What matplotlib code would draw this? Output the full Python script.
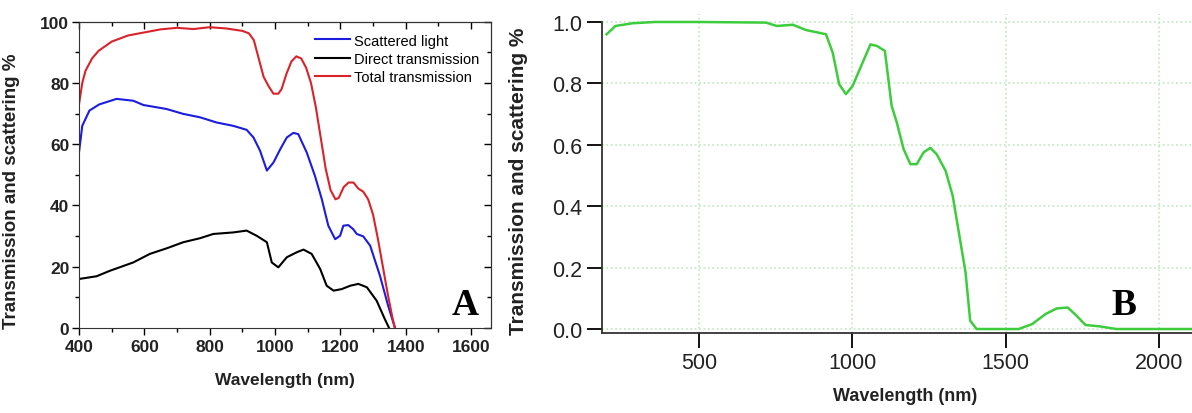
import matplotlib
matplotlib.use('Agg')
import matplotlib.pyplot as plt
from matplotlib.ticker import MultipleLocator

# ----- Panel A: spectra -----
total_nm = [400, 410, 420, 440, 460, 480, 500, 550, 600, 650, 700, 750, 800, 850, 900, 920,
            935, 950, 965, 980, 995, 1010, 1020, 1035, 1050, 1065, 1080, 1095, 1110, 1125,
            1140, 1155, 1170, 1185, 1195, 1210, 1225, 1240, 1255, 1270, 1285, 1300, 1315,
            1330, 1345, 1360, 1367]
total_pct = [73, 80, 84, 88, 90.5, 92, 93.5, 95.5, 96.5, 97.5, 98, 97.6, 98.2, 97.8, 97, 96.2,
             94, 88, 82, 79, 76.5, 76.5, 78, 83, 87, 88.7, 88, 85, 80, 72,
             62, 52, 45, 42, 42.5, 46, 47.5, 47.5, 45.5, 44.5, 42, 37, 29,
             20, 11, 3, 0]

scatter_nm = [400, 410, 432, 462, 515, 566, 597, 668, 719, 770, 821, 872, 913, 934, 954, 975,
              995, 1016, 1036, 1056, 1071, 1097, 1122, 1143, 1163, 1184, 1199, 1209, 1224,
              1239, 1250, 1270, 1291, 1321, 1346, 1367]
scatter_pct = [57.3, 66, 71, 73, 74.8, 74.2, 72.8, 71.5, 69.9, 68.8, 67.1, 66, 64.7, 62.2, 57.9, 51.4,
               54, 58.4, 62.2, 63.7, 63.3, 57.3, 49.7, 42.1, 33.4, 29, 30.1, 33.4, 33.6,
               32.3, 30.7, 29.9, 26.9, 17.1, 7.3, 0]

direct_nm = [400, 454, 495, 566, 617, 668, 719, 770, 811, 872, 913, 944, 975, 990, 1010, 1036,
             1066, 1087, 1112, 1138, 1158, 1179, 1204, 1230, 1255, 1281, 1311, 1336, 1349]
direct_pct = [16, 16.9, 18.7, 21.4, 24.2, 26, 28, 29.3, 30.7, 31.2, 31.8, 30.1, 28, 21.4, 19.8, 23.1,
              24.7, 25.6, 24.2, 19.3, 13.8, 12.2, 12.7, 13.8, 14.4, 13.3, 8.9, 2.9, 0]

# ----- Panel B -----
b_nm = [199, 228, 285, 357, 500, 718, 754, 806, 848, 914, 936, 957, 979, 1001, 1031, 1059, 1080,
        1106, 1128, 1145, 1167, 1189, 1210, 1232, 1254, 1275, 1304, 1327, 1347, 1369, 1384,
        1405, 1542, 1586, 1630, 1666, 1702, 1731, 1760, 1803, 1861, 2110]
b_val = [0.96, 0.987, 0.996, 1.0, 1.0, 0.998, 0.987, 0.991, 0.974, 0.96, 0.9, 0.797, 0.765, 0.792,
         0.862, 0.927, 0.922, 0.906, 0.727, 0.672, 0.586, 0.537, 0.537, 0.575, 0.59, 0.569,
         0.515, 0.434, 0.315, 0.184, 0.027, 0.0, 0.0, 0.016, 0.049, 0.067, 0.07, 0.043,
         0.013, 0.009, 0.0, 0.0]

W, H = 1192, 414
fig = plt.figure(figsize=(W / 100, H / 100), dpi=100)

# ===== Panel A =====
axA = fig.add_axes([79 / W, (H - 329) / H, (490.7 - 79) / W, (329 - 22.7) / H])
axA.plot(scatter_nm, scatter_pct, color='#1c1ce0', lw=1.5, label='Scattered light')
axA.plot(direct_nm, direct_pct, color='black', lw=1.5, label='Direct transmission')
axA.plot(total_nm, total_pct, color='#d8232a', lw=1.5, label='Total transmission')
axA.set_xlim(400, 1660)
axA.set_ylim(0, 100)
axA.xaxis.set_major_locator(MultipleLocator(200))
axA.xaxis.set_minor_locator(MultipleLocator(100))
axA.yaxis.set_major_locator(MultipleLocator(20))
axA.yaxis.set_minor_locator(MultipleLocator(10))
axA.tick_params(which='both', direction='out', top=False, right=False, width=1)
axA.tick_params(which='major', length=5)
axA.tick_params(which='minor', length=3)
for lab in axA.get_xticklabels() + axA.get_yticklabels():
    lab.set_fontfamily('Liberation Sans')
    lab.set_fontweight('bold')
    lab.set_fontsize(12.5)
    lab.set_color('#222222')
axA.tick_params(axis='x', pad=3)
axA.tick_params(axis='y', pad=2)
# mirrored inward ticks on top/right
secx = axA.secondary_xaxis('top')
secx.xaxis.set_major_locator(MultipleLocator(200))
secx.xaxis.set_minor_locator(MultipleLocator(100))
secx.tick_params(which='both', direction='in', labeltop=False, width=1)
secx.tick_params(which='major', length=5)
secx.tick_params(which='minor', length=3)
secy = axA.secondary_yaxis('right')
secy.yaxis.set_major_locator(MultipleLocator(20))
secy.yaxis.set_minor_locator(MultipleLocator(10))
secy.tick_params(which='both', direction='in', labelright=False, width=1)
secy.tick_params(which='major', length=5)
secy.tick_params(which='minor', length=3)
for sp in axA.spines.values():
    sp.set_color('#333333')
axA.set_xlabel('Wavelength (nm)', fontfamily='Liberation Sans', fontweight='bold',
               fontsize=12.5, color='#222222')
axA.xaxis.set_label_coords(0.5, -0.145)
axA.set_ylabel('Transmission and scattering %', fontfamily='Liberation Sans',
               fontweight='bold', fontsize=13.5, color='#222222')
axA.yaxis.set_label_coords(-0.143, 0.45)
leg = axA.legend(loc='upper left', bbox_to_anchor=(0.555, 0.985), frameon=False,
                 borderpad=0, handlelength=2.4, handletextpad=0.3, labelspacing=0.3,
                 prop={'family': 'Liberation Sans', 'size': 10.5})
axA.text(0.9375, 0.078, 'A', transform=axA.transAxes, ha='center', va='center',
         fontfamily='Liberation Serif', fontweight='bold', fontsize=27)

# ===== Panel B =====
axB = fig.add_axes([602 / W, (H - 334) / H, (W - 602) / W, (334 - 15) / H])
axB.plot(b_nm, b_val, color='#3ccc3c', lw=1.8)
axB.set_xlim(184, 2107)
axB.set_ylim(-0.013, 1.026)
axB.set_xticks([500, 1000, 1500, 2000])
axB.set_yticks([0.0, 0.2, 0.4, 0.6, 0.8, 1.0])
axB.set_yticklabels(['0.0', '0.2', '0.4', '0.6', '0.8', '1.0'])
axB.grid(True, color='#bfe8bf', linestyle=':', lw=1.2)
axB.spines['top'].set_visible(False)
axB.spines['right'].set_visible(False)
axB.spines['left'].set_bounds(-0.013, 1.0)
for sp in axB.spines.values():
    sp.set_color('#333333')
    sp.set_linewidth(1.3)
axB.tick_params(which='both', direction='out', length=11, width=1.3, pad=3)
for lab in axB.get_xticklabels() + axB.get_yticklabels():
    lab.set_fontfamily('Liberation Sans')
    lab.set_fontsize(15.5)
    lab.set_color('#222222')
axB.set_xlabel('Wavelength (nm)', fontfamily='Liberation Sans',
               fontweight='bold', fontsize=13, color='#222222')
axB.xaxis.set_label_coords(0.514, -0.17)
axB.set_ylabel('Transmission and scattering %', fontfamily='Liberation Sans',
               fontweight='bold', fontsize=15, color='#222222')
axB.yaxis.set_label_coords(-0.125, 0.48)
axB.text(0.884, 0.09, 'B', transform=axB.transAxes, ha='center', va='center',
         fontfamily='Liberation Serif', fontweight='bold', fontsize=27)

fig.savefig('out.png', dpi=100)
